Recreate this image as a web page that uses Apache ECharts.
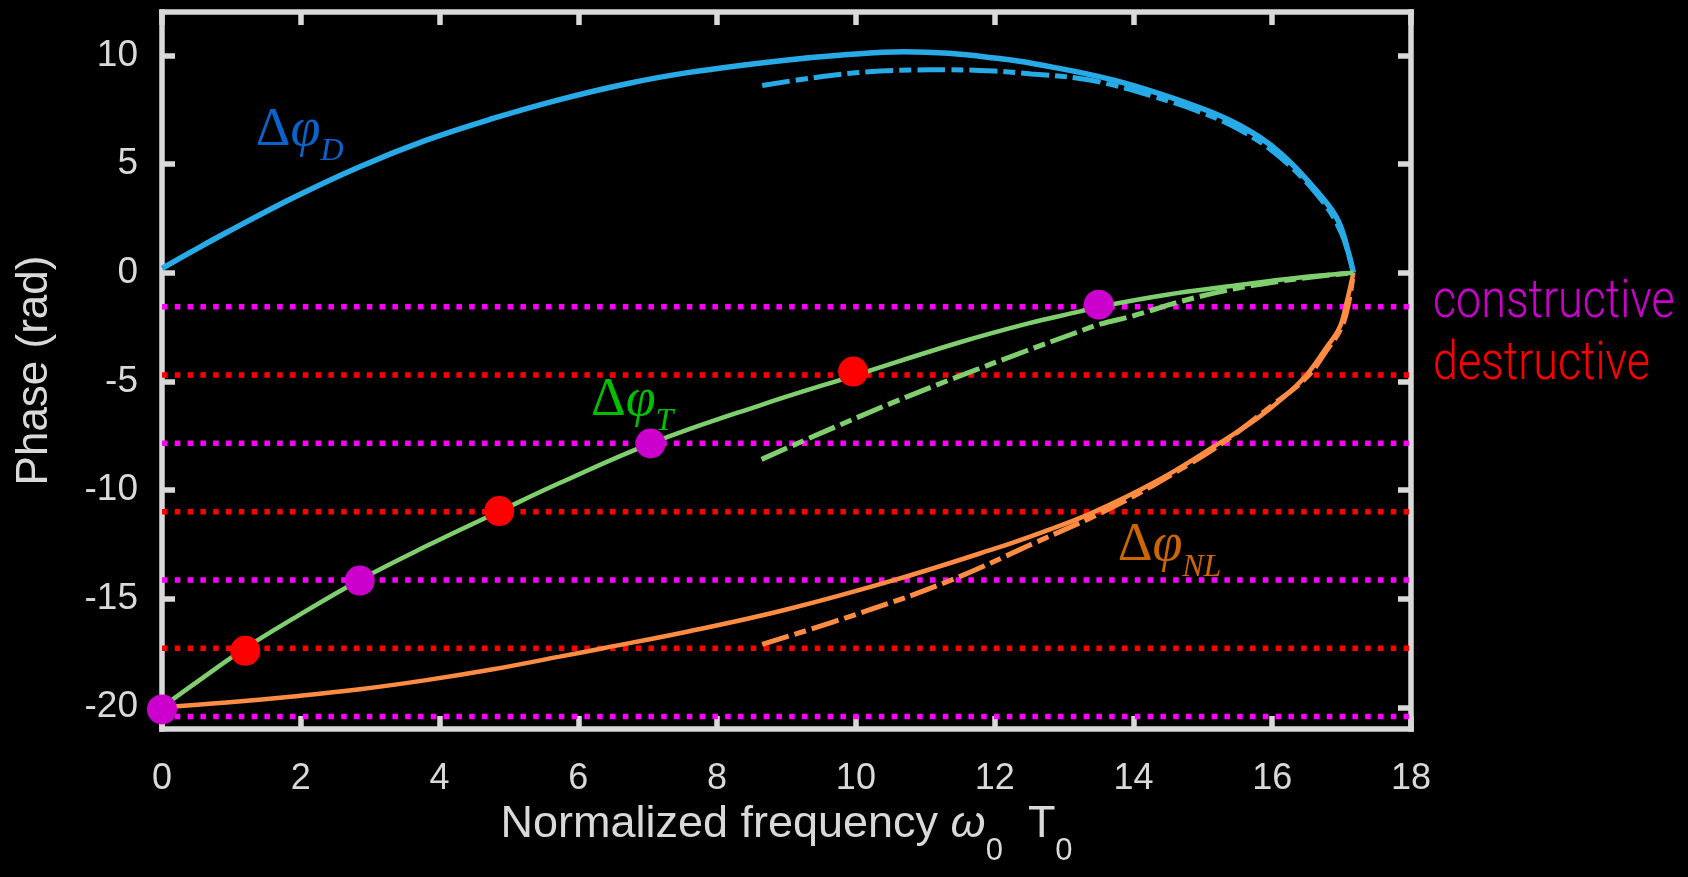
<!DOCTYPE html>
<html>
<head>
<meta charset="utf-8">
<script src="https://cdn.jsdelivr.net/npm/echarts@6/dist/echarts.min.js"></script>
<style>
html,body{margin:0;padding:0;background:#000;}
#chart{width:1688px;height:877px;}
</style>
</head>
<body>
<div id="chart"></div>
<script>
// ---------------- data ----------------
const xTickStep = 2;
const xRange = [0, 18];
const yRange = [-21, 12];
const yTickValues = [-20, -15, -10, -5, 0, 5, 10];

// dispersive phase (solid) and its approximation (dash-dot)
const dispX = [0, 0.5, 0.93, 1.89, 2.85, 3.81, 4.77, 5.73, 6.70, 7.6, 8.95, 9.8, 10.7, 11.34, 12.0, 12.53, 13.73, 14.92, 15.52, 16.12, 16.71, 16.95, 17.1, 17.17];
const dispY = [0.2, 1.1, 1.85, 3.45, 4.88, 6.1, 7.1, 7.97, 8.7, 9.22, 9.77, 10.02, 10.17, 10.1, 9.88, 9.64, 8.85, 7.64, 6.8, 5.5, 3.5, 2.4, 0.9, 0];
const dispApproxX = [8.65, 9.4, 10.14, 10.8, 11.34, 12.0, 12.53, 13.2, 13.73, 14.32, 14.92, 15.52, 16.12, 16.71, 17.0, 17.17];
const dispApproxY = [8.62, 8.98, 9.24, 9.33, 9.34, 9.28, 9.15, 8.95, 8.62, 8.08, 7.45, 6.6, 5.3, 3.35, 1.8, 0];

// total phase
const totalX = [0, 0.45, 1.2, 1.89, 2.85, 3.81, 4.85, 5.73, 7.05, 8.62, 10.0, 11.5, 12.5, 13.23, 13.5, 14.48, 15.44, 16.4, 17.17];
const totalY = [-20, -18.96, -17.28, -15.92, -14.14, -12.58, -11.0, -9.68, -7.85, -6.1, -4.71, -3.2, -2.32, -1.78, -1.57, -1.01, -0.6, -0.22, 0];
const totalApproxX = [8.64, 9.57, 10.53, 11.5, 12.46, 13.18, 13.52, 14.0, 14.72, 15.44, 16.16, 16.7, 17.17];
const totalApproxY = [-8.59, -7.28, -5.98, -4.75, -3.59, -2.75, -2.37, -1.98, -1.29, -0.75, -0.37, -0.15, 0];

// nonlinear phase
const nlX = [0, 0.93, 1.89, 2.85, 3.81, 4.77, 5.73, 6.36, 7.6, 9.0, 10.56, 12.0, 12.65, 13.37, 14.33, 15.22, 15.77, 16.16, 16.49, 16.78, 16.97, 17.07, 17.17];
const nlY = [-20, -19.78, -19.5, -19.17, -18.75, -18.25, -17.67, -17.28, -16.5, -15.5, -14.14, -12.7, -11.98, -11.1, -9.6, -7.88, -6.74, -5.75, -4.72, -3.44, -2.52, -1.4, 0];
const nlApproxX = [8.65, 10.14, 11.34, 12.53, 13.73, 14.81, 15.3, 16.0, 16.5, 16.8, 17.0, 17.1, 17.17];
const nlApproxY = [-17.11, -15.58, -14.19, -12.5, -10.74, -8.8, -7.8, -6.1, -4.8, -3.5, -2.5, -1.4, 0];

// interference levels
const constructiveLevels = [-1.57, -7.85, -14.14, -20.42];
const destructiveLevels = [-4.71, -11.0, -17.28];

// marked points on the total phase curve
const constructiveDotX = [0, 2.85, 7.04, 13.5];
const constructiveDotY = [-20.1, -14.17, -7.86, -1.47];
const destructiveDotX = [1.2, 4.86, 9.96];
const destructiveDotY = [-17.4, -10.97, -4.55];

const curveSubscripts = ['D', 'T', 'NL'];
const levelNames = ['constructive', 'destructive'];

// ---------------- styling / annotation placement ----------------
const GREY = '#d9d9d9';
const SANS = '"Liberation Sans", Arial, Helvetica, sans-serif';
const SERIF = '"Liberation Serif", "Times New Roman", serif';
const C_BLUE = '#27aae6', C_GREEN = '#80cf6e', C_ORANGE = '#ff8c42';
const C_MAG_LINE = '#ff00ff', C_MAG_DOT = '#cc00cc', C_RED = '#ff0000';
const labelAnchors = [[1.36, 4.8], [6.19, -7.63], [13.78, -14.31]];
const labelColors = ['#0a7cff', '#00ee00', '#ff8000'];

const zip = (xs, ys) => xs.map((x, i) => [x, ys[i]]);

function curve(xs, ys, color, width, dashed) {
  return {
    type: 'line', data: zip(xs, ys), symbol: 'none', smooth: 0.4, z: 3,
    lineStyle: { color, width, type: dashed ? [28, 6, 12, 6] : 'solid', cap: 'butt' },
    silent: true
  };
}
function level(v, color) {
  return {
    type: 'line', data: [[xRange[0], v], [xRange[1], v]], symbol: 'none', z: 2, clip: false,
    lineStyle: { color, width: 5.5, type: [5.5, 7.3], cap: 'butt' }, silent: true
  };
}

const series = [];
constructiveLevels.forEach(v => series.push(level(v, C_MAG_LINE)));
destructiveLevels.forEach(v => series.push(level(v, C_RED)));
series.push(curve(dispX, dispY, C_BLUE, 5.5, false));
series.push(curve(dispApproxX, dispApproxY, C_BLUE, 5, true));
series.push(curve(nlX, nlY, C_ORANGE, 4.5, false));
series.push(curve(nlApproxX, nlApproxY, C_ORANGE, 5, true));
series.push(curve(totalX, totalY, C_GREEN, 4.5, false));
series.push(curve(totalApproxX, totalApproxY, C_GREEN, 5, true));

series.push({
  type: 'scatter', data: zip(constructiveDotX, constructiveDotY), symbolSize: 30, z: 6, clip: false,
  itemStyle: { color: C_MAG_DOT, opacity: 1 }, silent: true
});
series.push({
  type: 'scatter', data: zip(destructiveDotX, destructiveDotY), symbolSize: 30, z: 6, clip: false,
  itemStyle: { color: C_RED, opacity: 1 }, silent: true
});

// curve name labels  Δφ_X
curveSubscripts.forEach((sub, i) => {
  const col = labelColors[i];
  series.push({
    type: 'scatter', data: [labelAnchors[i]], symbolSize: 1, z: 7, clip: false, silent: true,
    itemStyle: { color: 'rgba(0,0,0,0)' },
    label: {
      show: true, position: [0, 0], align: 'left', verticalAlign: 'bottom',
      formatter: '{a|Δ}{b|φ}{c|' + sub + '}',
      rich: {
        a: { color: col, fontFamily: SERIF, fontSize: 54, lineHeight: 54, padding: [0, 0, 10, 0], verticalAlign: 'bottom' },
        b: { color: col, fontFamily: SERIF, fontStyle: 'italic', fontSize: 54, lineHeight: 54, padding: [0, 0, 10, 0], verticalAlign: 'bottom' },
        c: { color: col, fontFamily: SERIF, fontStyle: 'italic', fontSize: 32, lineHeight: 32, verticalAlign: 'bottom' }
      }
    }
  });
});

const axisLine = { show: true, onZero: false, lineStyle: { color: GREY, width: 5.5, cap: 'square' } };
const axisTick = { show: true, inside: true, length: 13, lineStyle: { color: GREY, width: 5.5 } };

const option = {
  backgroundColor: '#000',
  animation: false,
  grid: { left: 162, right: 277, top: 12, bottom: 148, containLabel: false, outerBoundsMode: 'none' },
  xAxis: [
    {
      type: 'value', position: 'bottom', min: xRange[0], max: xRange[1], interval: xTickStep,
      axisLine, axisTick, splitLine: { show: false },
      axisLabel: { color: GREY, fontFamily: SANS, fontSize: 36, margin: 32 },
      name: '{n|Normalized frequency }{w|ω}{s|0}{n|  T}{s|0}',
      nameLocation: 'middle', nameGap: 88,
      nameTextStyle: {
        color: GREY, fontFamily: SANS, fontSize: 45,
        rich: {
          n: { color: GREY, fontFamily: SANS, fontSize: 45, lineHeight: 45, padding: [0, 0, 20, 0], verticalAlign: 'bottom' },
          w: { color: GREY, fontFamily: SANS, fontStyle: 'italic', fontSize: 45, lineHeight: 45, padding: [0, 0, 20, 0], verticalAlign: 'bottom' },
          s: { color: GREY, fontFamily: SANS, fontSize: 31, lineHeight: 31, verticalAlign: 'bottom' }
        }
      }
    },
    {
      type: 'value', position: 'top', min: xRange[0], max: xRange[1], interval: xTickStep,
      axisLine, axisTick, splitLine: { show: false }, axisLabel: { show: false }
    }
  ],
  yAxis: [
    {
      type: 'value', position: 'left', min: yRange[0], max: yRange[1],
      axisLine, axisTick: Object.assign({}, axisTick, { customValues: yTickValues }),
      splitLine: { show: false },
      axisLabel: { color: GREY, fontFamily: SANS, fontSize: 37, margin: 24, customValues: yTickValues },
      name: 'Phase (rad)', nameLocation: 'middle', nameGap: 105,
      nameTextStyle: { color: GREY, fontFamily: SANS, fontSize: 44 }
    },
    {
      type: 'value', position: 'right', min: yRange[0], max: yRange[1],
      axisLine, axisTick: Object.assign({}, axisTick, { customValues: yTickValues }),
      splitLine: { show: false }, axisLabel: { show: false }
    }
  ],
  series
};

const chart = echarts.init(document.getElementById('chart'), null, { renderer: 'canvas' });
chart.setOption(option);

// level names to the right of the frame, placed through the axis scales
const levelLabelSpecs = [
  { text: levelNames[0], level: constructiveLevels[0], color: C_MAG_DOT, dy: -3 },
  { text: levelNames[1], level: destructiveLevels[0], color: C_RED, dy: -10 }
];
chart.setOption({
  graphic: levelLabelSpecs.map(s => {
    const p = chart.convertToPixel({ xAxisIndex: 0, yAxisIndex: 0 }, [xRange[1], s.level]);
    return {
      type: 'text', x: p[0] + 22, y: p[1] + s.dy, scaleX: 0.83, scaleY: 1, z: 10, silent: true,
      style: {
        text: s.text, fill: s.color, fontFamily: 'Roboto, "Liberation Sans", sans-serif',
        fontWeight: 300, fontSize: 54, align: 'left', verticalAlign: 'middle'
      }
    };
  })
});
</script>
</body>
</html>
